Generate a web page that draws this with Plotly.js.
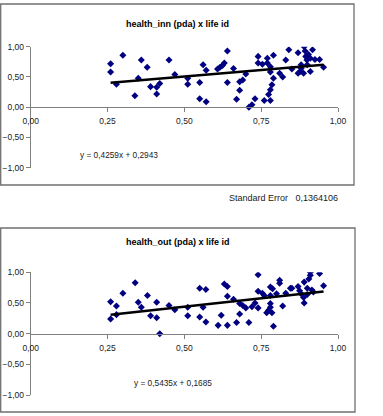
<!DOCTYPE html>
<html>
<head>
<meta charset="utf-8">
<script src="https://cdn.plot.ly/plotly-3.0.1.min.js"></script>
<style>
  html, body { margin: 0; padding: 0; background: #ffffff; }
  #chart { width: 383px; height: 416px; }
</style>
</head>
<body>
<div id="chart"></div>
<script>
// health_inn (pda) against life id
const innLife = [0.26,0.26,0.279,0.30,0.339,0.35,0.36,0.379,0.39,0.41,0.41,0.42,0.45,0.469,
  0.511,0.511,0.55,0.55,0.561,0.571,0.571,0.608,0.616,0.624,0.63,0.64,0.64,0.66,0.67,0.68,0.68,0.69,0.70,0.71,0.72,0.73,0.74,0.74,
  0.754,0.76,0.77,0.77,0.774,0.78,0.785,0.79,0.78,0.78,0.78,0.79,0.81,0.82,0.83,0.84,0.85,0.87,0.87,0.877,0.88,0.888,0.89,0.893,0.895,0.899,0.90,0.904,0.91,0.91,0.917,0.925,0.94,0.953,0.88];
const innHealth = [0.72,0.58,0.38,0.86,0.19,0.48,0.78,0.66,0.34,0.22,0.33,0.39,0.78,0.54,
  0.48,0.38,0.41,0.14,0.70,0.09,0.61,0.63,0.66,0.69,0.73,0.93,0.41,0.64,0.13,0.28,0.42,0.45,0.55,0.00,0.04,0.14,0.84,0.73,
  0.71,0.11,0.81,0.73,0.21,0.29,0.37,0.48,0.11,0.67,0.58,0.86,0.56,0.50,0.78,0.95,0.63,0.90,0.56,0.59,0.64,0.56,1.00,0.93,0.84,0.78,0.70,0.87,0.59,0.81,0.95,0.79,0.79,0.66,0.70];

// health_out (pda) against life id
const outLife = [0.26,0.26,0.279,0.279,0.30,0.34,0.35,0.36,0.38,0.39,0.41,0.41,0.42,0.45,0.469,
  0.511,0.511,0.55,0.55,0.561,0.57,0.57,0.61,0.62,0.63,0.64,0.64,0.64,0.66,0.67,0.68,0.68,0.69,0.70,0.71,0.72,0.73,
  0.74,0.74,0.74,0.754,0.76,0.768,0.774,0.78,0.78,0.78,0.785,0.78,0.787,0.79,0.80,0.81,0.81,0.82,0.83,0.845,0.85,0.87,0.875,0.88,0.888,0.89,0.89,0.90,0.90,0.905,0.91,0.91,0.915,0.92,0.94,0.953];
const outHealth = [0.52,0.24,0.45,0.31,0.66,0.83,0.51,0.43,0.62,0.29,0.51,0.26,0.00,0.46,0.39,
  0.43,0.29,0.74,0.27,0.43,0.72,0.19,0.135,0.30,0.81,0.77,0.61,0.135,0.56,0.18,0.32,0.49,0.46,0.42,0.18,0.44,0.50,
  0.96,0.69,0.42,0.66,0.62,0.34,0.38,0.62,0.49,0.43,0.34,0.76,0.73,0.12,0.65,0.87,0.82,0.45,0.66,0.74,0.74,0.77,0.70,0.65,0.59,0.84,0.50,0.74,0.64,0.89,1.00,0.95,0.71,0.68,0.98,0.78];

// linear trend coefficients [slope, intercept]
const innTrend = [0.4259, 0.2943];
const outTrend = [0.5435, 0.1685];

const titles = ['health_inn (pda) x life id', 'health_out (pda) x life id'];
const stdErrorLabel = 'Standard Error';
const stdErrorValue = '0,1364106';

const W = 383, H = 416;
const px = v => v / W;          // horizontal pixel -> paper
const py = v => 1 - v / H;      // vertical pixel -> paper

const FONT = 'Liberation Sans, Arial, sans-serif';
const navy = '#000080';
const TEXT = '#1a1a1a';

function fmt(v) { return v.toFixed(4).replace('.', ','); }
function eqText(t) { return 'y = ' + fmt(t[0]) + 'x + ' + fmt(t[1]); }

function trendTrace(xs, t, xa, ya) {
  const x0 = Math.min(...xs), x1 = Math.max(...xs);
  return {
    x: [x0, x1], y: [t[0] * x0 + t[1], t[0] * x1 + t[1]],
    xaxis: xa, yaxis: ya, mode: 'lines', type: 'scatter',
    line: { color: '#000000', width: 2.5 }, hoverinfo: 'skip'
  };
}
function pointTrace(xs, ys, xa, ya) {
  return {
    x: xs, y: ys, xaxis: xa, yaxis: ya, mode: 'markers', type: 'scatter',
    marker: { symbol: 'diamond', size: 5.4, color: navy, line: { width: 0 } }
  };
}

const data = [
  pointTrace(innLife, innHealth, 'x', 'y'),
  trendTrace(innLife, innTrend, 'x', 'y'),
  pointTrace(outLife, outHealth, 'x2', 'y2'),
  trendTrace(outLife, outTrend, 'x2', 'y2')
];

const xDom = [px(30.7), px(338)];
const y1Dom = [py(167.7), py(46.7)];
const y2Dom = [py(395), py(272.3)];

function xAxis(dom, yDom) {
  return {
    domain: dom, range: [0, 1], tick0: 0, dtick: 0.25, tickformat: '.2f',
    anchor: 'free', position: (yDom[0] + yDom[1]) / 2,
    showline: true, linecolor: '#808080', linewidth: 1,
    ticks: 'outside', ticklen: 4, tickcolor: '#808080', tickwidth: 1,
    showgrid: false, zeroline: false, fixedrange: true,
    tickfont: { family: FONT, size: 8.5, color: TEXT }, ticklabelstandoff: 2
  };
}
function yAxis(dom, xa) {
  return {
    domain: dom, range: [-1, 1], tick0: -1, dtick: 0.5, tickformat: '.2f',
    anchor: xa, showline: true, linecolor: '#808080', linewidth: 1,
    ticks: 'outside', ticklen: 4, tickcolor: '#808080', tickwidth: 1,
    showgrid: false, zeroline: false, fixedrange: true,
    tickfont: { family: FONT, size: 8.5, color: TEXT }
  };
}

const frame = (x0, y0, x1, y1) => ({
  type: 'rect', xref: 'paper', yref: 'paper',
  x0: px(x0), x1: px(x1), y0: py(y0), y1: py(y1),
  line: { color: '#707070', width: 1.3 }, fillcolor: 'rgba(0,0,0,0)', layer: 'below'
});

const layout = {
  width: W, height: H,
  margin: { l: 0, r: 0, t: 0, b: 0 },
  paper_bgcolor: '#ffffff', plot_bgcolor: 'rgba(0,0,0,0)',
  showlegend: false, separators: ',.',
  font: { family: FONT, size: 8.5, color: TEXT },
  xaxis: xAxis(xDom, y1Dom), yaxis: yAxis(y1Dom, 'x'),
  xaxis2: xAxis(xDom, y2Dom), yaxis2: yAxis(y2Dom, 'x2'),
  shapes: [frame(0.7, 4, 354, 185), frame(0.7, 228, 355, 412)],
  annotations: [
    { xref: 'paper', yref: 'paper', x: px(177.3), y: py(16.5), text: titles[0], showarrow: false,
      font: { family: FONT, size: 9, color: '#000000', weight: 'bold' } },
    { xref: 'paper', yref: 'paper', x: px(177.5), y: py(242), text: titles[1], showarrow: false,
      font: { family: FONT, size: 9, color: '#000000', weight: 'bold' } },
    { xref: 'x', yref: 'y', x: 0.286, y: -0.79, text: eqText(innTrend), showarrow: false,
      font: { family: FONT, size: 8.3, color: TEXT } },
    { xref: 'x2', yref: 'y2', x: 0.462, y: -0.80, text: eqText(outTrend), showarrow: false,
      font: { family: FONT, size: 8.3, color: TEXT } },
    { xref: 'paper', yref: 'paper', x: px(227), y: py(197.5), xanchor: 'left', showarrow: false,
      text: stdErrorLabel + '\u00a0\u00a0\u00a0' + stdErrorValue,
      font: { family: FONT, size: 9, color: TEXT } }
  ]
};

Plotly.newPlot('chart', data, layout, { staticPlot: true, displayModeBar: false });
</script>
</body>
</html>
